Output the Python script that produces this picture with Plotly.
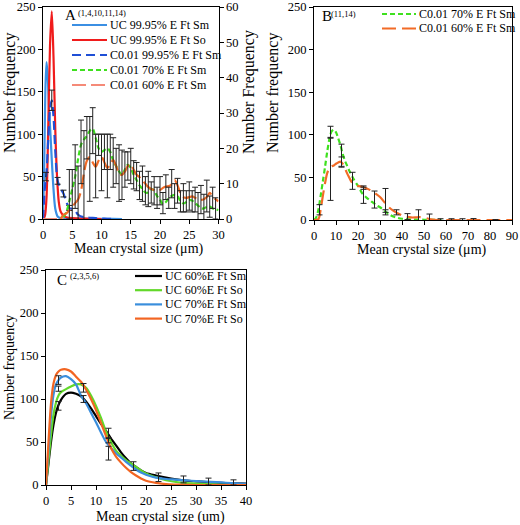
import plotly.graph_objects as go

W, H = 520, 525
FONT = "Liberation Serif"

# ---------------- Panel A data ----------------
a_uc_sm_x = [0, 0.2, 0.4, 0.6, 0.8, 1.0, 1.2, 1.5, 1.8, 2.1, 2.5, 3, 4, 6, 8, 10, 12, 13.5]
a_uc_sm_y = [0, 60, 150, 185, 170, 135, 110, 70, 35, 12, 3, 1, 0.5, 0.5, 0.3, 0.2, 0.1, 0]

a_uc_so_x = [0, 0.3, 0.6, 0.9, 1.2, 1.5, 1.8, 2.1, 2.4, 2.7, 3.0, 3.5, 4, 5, 7, 10]
a_uc_so_y = [0, 3, 25, 110, 205, 245, 190, 105, 50, 20, 9, 4, 2, 1, 0.5, 0]

a_c995_x = [0, 0.3, 0.6, 0.9, 1.2, 1.5, 1.8, 2.1, 2.5, 3.0, 3.5, 4.0, 4.5, 5.0, 5.5, 6.0, 7, 8, 9, 10, 11, 12]
a_c995_y = [0, 35, 55, 95, 130, 140, 120, 80, 45, 36, 30, 20, 13, 12, 10, 5, 2, 1.5, 1, 0.5, 0.3, 0]
a_c995_err_x = [0.5, 1.5, 2.5, 3.5, 4.5]
a_c995_err_y = [50, 140, 45, 30, 13]
a_c995_err = [5, 12, 4, 4, 3]

a_c70_x = [3.5, 4, 4.5, 5, 5.5, 6, 6.5, 7, 7.5, 8, 8.5, 9, 9.5, 10, 10.5, 11, 11.5, 12, 12.5, 13,
           13.5, 14, 14.5, 15, 15.5, 16, 16.5, 17, 17.5, 18, 18.5, 19, 19.5, 20, 20.5, 21, 21.5, 22,
           22.5, 23, 23.5, 24, 24.5, 25, 25.5, 26, 26.5, 27, 27.5, 28, 28.5, 29, 29.5, 30]
a_c70_y = [0.5, 2, 5, 8.5, 12, 17, 21, 22.5, 23.5, 25, 25.5, 23, 20, 19, 19.5, 20, 19, 16.5, 15, 13.5,
           12.5, 14, 15.3, 14.5, 12.5, 11, 9.5, 8.5, 7.5, 7.5, 8.5, 8, 6.5, 5.5, 4.2, 4.8, 5.9, 6.5,
           6.8, 6.5, 5, 4.4, 4.8, 5.4, 5.2, 4.5, 3.8, 3.0, 3.0, 3.4, 3.5, 3.0, 2.8, 2.5]
a_c70_err_x = [4.5, 5.5, 6.5, 7.5, 8.5, 9.5, 10.5, 11.5, 12.5, 13.5, 14.5, 15.5, 16.5, 17.5, 18.5,
               19.5, 20.5, 21.5, 22.5, 23.5, 24.5, 25.5, 26.5, 27.5, 28.5, 29.5]
a_c70_err_y = [7, 12, 19, 23, 25, 21, 19, 19, 15, 12.5, 15, 12.5, 9.5, 8, 7.5, 6, 4.5, 6, 6.5, 5, 5,
               5, 3.5, 3, 3.5, 3]
a_c70_err = [7, 9, 9, 6, 6.5, 3, 5, 5, 5, 7, 4, 4, 4, 4, 3, 3, 3, 3, 3.5, 3, 3, 3, 4, 4, 3, 3]

a_c60_zero_x = [0, 3.5]
a_c60_zero_y = [0, 0]
a_c60_x = [3.0, 3.5, 4.0, 4.5, 5.0, 5.5, 6.0, 6.5, 7.0, 7.5, 8.0, 8.5, 9.0, 9.5, 10, 10.5, 11, 11.5,
           12, 12.5, 13, 13.5, 14, 14.5, 15, 15.5, 16, 16.5, 17, 17.5, 18, 18.5, 19, 19.5, 20, 20.5,
           21, 21.5, 22, 22.5, 23, 23.5, 24, 24.5, 25, 25.5, 26, 26.5, 27, 27.5, 28, 28.5, 29, 29.5, 30]
a_c60_y = [0, 1.2, 1.6, 2.5, 3.5, 4.5, 5.5, 8, 13, 16.5, 17.5, 16, 14.8, 16.5, 17.6, 16, 14.5, 15.5,
           16.7, 15, 12.8, 12.5, 13.4, 15, 15.5, 13.9, 12.5, 11.8, 10.8, 10, 9, 8.5, 8.2, 8, 8.2, 8.8,
           9.2, 9.3, 9.8, 11, 9.5, 7.3, 6.2, 6, 6.2, 6.4, 6, 5.6, 5.4, 5.6, 6.2, 7.4, 6.4, 5.6, 5]
a_c60_err_x = [5, 6, 7, 8, 9, 10, 11, 12, 13, 14, 15, 16, 17, 18, 19, 20, 21, 22, 23, 24, 25, 26, 27, 28, 29]
a_c60_err_y = [4, 5, 12, 17, 15, 16, 15, 16, 13, 14, 15, 12, 10, 8.5, 8, 8, 9, 10, 8, 6, 6.5, 5.5, 5.5, 6.5, 6]
a_c60_err = [10, 10, 13, 12, 9, 8, 9, 7, 8, 5, 5, 4, 5, 5, 4, 4, 3.5, 4, 3.5, 4, 4, 3.5, 4, 4.5, 3]

a_legend_names = ["UC 99.95% E Ft Sm", "UC 99.95% E Ft So", "C0.01 99.95% E Ft Sm",
                  "C0.01 70% E Ft Sm", "C0.01 60% E Ft Sm"]

# ---------------- Panel B data ----------------
b_c70_x = [0, 1, 2, 3, 4, 5, 6, 7, 8, 9, 10, 11, 12, 13, 14, 15, 16, 18, 20, 22, 24, 26, 28, 30, 32,
           34, 36, 38, 40, 42, 45, 50, 55, 58]
b_c70_y = [0, 3, 12, 28, 45, 62, 80, 95, 104, 106, 103, 96, 88, 78, 70, 64, 58, 48, 40, 31, 26, 22,
           18, 15, 11, 7, 4, 2.5, 1.5, 1, 0.5, 0.3, 0.1, 0]
b_c70_err_x = [2.5, 7.5, 12.5, 17.5, 22.5, 27.5, 32.5, 37.5, 42.5]
b_c70_err_y = [12, 103, 76, 46, 29, 24, 9, 9, 4]
b_c70_err = [6, 7, 13, 10, 9.5, 10, 3, 3, 3.5]

b_c60_x = [0, 2, 3, 4, 5, 6, 7, 8, 9, 10, 11, 12, 13, 14, 15, 16, 17, 18, 20, 22, 24, 26, 28, 30, 32,
           34, 36, 38, 40, 42, 44, 46, 48, 50, 52, 54, 56, 60, 70, 80, 90]
b_c60_y = [0, 1, 12, 28, 43, 55, 61, 63, 64, 66, 67.5, 68.5, 66, 61, 55, 50, 45, 42, 40, 39, 37,
           34.5, 31, 27, 21, 15, 11, 8, 5.5, 4, 3, 3, 3.5, 3, 1.5, 0.5, 0, 0, 0, 0, 0]
b_c60_err_x = [7.5, 12.5, 22.5, 32.5, 47.5, 52.5, 57.5, 62.5, 67.5, 72.5, 82.5]
b_c60_err_y = [60, 68, 38, 23, 5, 2, 0.5, 0.5, 0.5, 0.5, 0]
b_c60_err = [37, 6, 2, 14, 7, 5, 1, 1, 1, 1.2, 0.5]

b_legend_names = ["C0.01 70% E Ft Sm", "C0.01 60% E Ft Sm"]

# ---------------- Panel C data ----------------
c_x = [0, 0.5, 1, 1.5, 2, 2.5, 3, 4, 5, 6, 7, 8, 9, 10, 11, 12, 13, 14, 15, 16, 17, 18, 19, 20,
       22, 24, 26, 28, 30, 32, 34, 36, 38, 40]
c_60_sm = [0, 25, 50, 70, 84, 93, 99, 106, 107.5, 106, 103, 97, 89, 80, 71, 63, 54, 46, 38, 31, 25,
           21, 17, 14, 11, 8.5, 6.5, 5, 4.2, 3.5, 2.8, 2.2, 1.8, 1.5]
c_60_so = [0, 28, 58, 82, 96, 104, 108, 111.5, 114.5, 117, 117, 113, 104, 92, 78, 62, 50, 40, 34, 29,
           25, 21, 17, 13.5, 9, 5.5, 3.5, 2.3, 1.5, 1, 0.7, 0.4, 0.2, 0]
c_70_sm = [0, 40, 80, 105, 117, 122, 125, 126.5, 123, 117, 104, 95, 84, 73, 61, 50, 43, 37, 32, 27,
           22.5, 18, 14.5, 12, 8.5, 7, 6.2, 5.3, 4.6, 4, 3.3, 2.6, 2, 1.4]
c_70_so = [0, 50, 95, 118, 128, 132, 134, 134.5, 132, 126, 120, 111, 100, 87, 72, 57, 43, 33, 26, 20,
           15, 11, 7.5, 5, 2.5, 1, 0.5, 0.2, 0, 0, 0, 0, 0, 0]
c_err_x = [2.5, 2.5, 2.5, 7.5, 7.5, 12.5, 12.5, 12.5, 17.5, 22.5, 27.5, 32.5, 37.5]
c_err_y = [122, 112, 92, 113, 100, 60, 52, 37, 22, 9, 6.5, 4, 3]
c_err = [5, 3, 5, 5, 4, 6, 3, 8, 5, 5, 4, 4, 3]

c_legend_names = ["UC 60%E Ft Sm", "UC 60%E Ft So", "UC 70%E Ft Sm", "UC 70%E Ft So"]

# ---------------- styles ----------------
COL_A = ["#3b8fe3", "#f01c1c", "#1f4fd6", "#3ee01e", "#f58a78"]
DASH_A = ["solid", "solid", "9px,5px", "5px,3px", "14px,5px"]
COL_B = ["#3ee01e", "#f26b26"]
DASH_B = ["5px,3px", "14px,6px"]
COL_C = ["#000000", "#62d82a", "#3a8edc", "#f26522"]


def px(x):
    return x / W


def py(y):
    return 1 - y / H


fig = go.Figure()


def line(x, y, color, dash="solid", xa="x", ya="y", width=2.2):
    fig.add_trace(go.Scatter(
        x=x, y=y, mode="lines", xaxis=xa, yaxis=ya, showlegend=False,
        line=dict(color=color, width=width, dash=dash, shape="spline", smoothing=0.8),
    ))


def errs(x, y, e, xa="x", ya="y"):
    fig.add_trace(go.Scatter(
        x=x, y=y, mode="markers", xaxis=xa, yaxis=ya, showlegend=False, hoverinfo="skip",
        marker=dict(size=1, color="rgba(0,0,0,0)"),
        error_y=dict(type="data", array=e, visible=True, color="#222222", thickness=1, width=3),
    ))


# Panel A
line(a_c70_x, a_c70_y, COL_A[3], dash=DASH_A[3], ya="y2")
line(a_c60_x, a_c60_y, "#f26b26", dash=DASH_A[4], ya="y2")
errs(a_c70_err_x, a_c70_err_y, a_c70_err, ya="y2")
errs(a_c60_err_x, a_c60_err_y, a_c60_err, ya="y2")
line(a_uc_sm_x, a_uc_sm_y, COL_A[0])
line(a_uc_so_x, a_uc_so_y, COL_A[1])
line(a_c995_x, a_c995_y, COL_A[2], dash=DASH_A[2])
errs(a_c995_err_x, a_c995_err_y, a_c995_err)
line(a_c60_zero_x, a_c60_zero_y, COL_A[4], dash=DASH_A[4])

# Panel B
line(b_c70_x, b_c70_y, COL_B[0], dash=DASH_B[0], xa="x2", ya="y3")
line(b_c60_x, b_c60_y, COL_B[1], dash=DASH_B[1], xa="x2", ya="y3")
errs(b_c70_err_x, b_c70_err_y, b_c70_err, xa="x2", ya="y3")
errs(b_c60_err_x, b_c60_err_y, b_c60_err, xa="x2", ya="y3")

# Panel C
line(c_x, c_60_sm, COL_C[0], xa="x3", ya="y4")
line(c_x, c_60_so, COL_C[1], xa="x3", ya="y4")
line(c_x, c_70_sm, COL_C[2], xa="x3", ya="y4")
line(c_x, c_70_so, COL_C[3], xa="x3", ya="y4")
errs(c_err_x, c_err_y, c_err, xa="x3", ya="y4")

axis_common = dict(showline=True, linecolor="black", linewidth=1, ticks="outside", ticklen=4,
                   tickcolor="black", showgrid=False, zeroline=False, automargin=False,
                   tickfont=dict(family=FONT, size=12.5, color="black"))

fig.update_layout(
    width=W, height=H, autosize=False,
    margin=dict(l=0, r=0, t=0, b=0, autoexpand=False),
    paper_bgcolor="white", plot_bgcolor="white",
    font=dict(family=FONT, size=12, color="black"),
    showlegend=False,
    xaxis=dict(domain=[px(43), px(218.5)], range=[0, 30], dtick=5, anchor="y", mirror=True, **axis_common),
    yaxis=dict(domain=[py(219), py(7)], range=[0, 250], dtick=50, anchor="x", **axis_common),
    yaxis2=dict(range=[0, 60], dtick=10, overlaying="y", side="right", anchor="x", **axis_common),
    xaxis2=dict(domain=[px(314), px(512)], range=[0, 90], dtick=10, anchor="y3", mirror=True, **axis_common),
    yaxis3=dict(domain=[py(220), py(7)], range=[0, 250], dtick=50, anchor="x2", mirror=True, **axis_common),
    xaxis3=dict(domain=[px(46), px(246)], range=[0, 40], dtick=5, anchor="y4", mirror=True, **axis_common),
    yaxis4=dict(domain=[py(485), py(270)], range=[0, 250], dtick=50, anchor="x3", mirror=True, **axis_common),
)

ann = []
shapes = []


def text(t, x, y, size, angle=0, xanchor="center"):
    ann.append(dict(text=t, x=px(x), y=py(y), xref="paper", yref="paper", showarrow=False,
                    textangle=angle, xanchor=xanchor, yanchor="middle",
                    font=dict(family=FONT, size=size, color="black")))


def legend(names, colors, dashes, x0, x1, y0, dy, size):
    for i, (n, c, d) in enumerate(zip(names, colors, dashes)):
        yy = y0 + i * dy
        shapes.append(dict(type="line", xref="paper", yref="paper", x0=px(x0), x1=px(x1),
                           y0=py(yy), y1=py(yy), line=dict(color=c, width=2.2, dash=d)))
        text(n, x1 + 1, yy, size, xanchor="left")


legend(a_legend_names, COL_A, DASH_A, 72, 107, 25, 15, 12)
legend(b_legend_names, COL_B, DASH_B, 382, 416, 14, 14.5, 12)
legend(c_legend_names, COL_C, ["solid"] * 4, 135, 162, 276, 14.2, 12)

text("Number frequency", 10, 93, 16, -90)
text("Number Frequency", 249, 92, 16, -90)
text("Mean crystal size (μm)", 139, 249, 14)
text("Number frequency", 273, 93, 16, -90)
text("Mean crystal size (μm)", 422, 250, 14)
text("Number frequency", 9, 368, 14, -90)
text("Mean crystal size (um)", 160, 517, 14)
text("A", 63, 15, 15, xanchor="left")
text("(1,4,10,11,14)", 76, 13, 8.5, xanchor="left")
text("B", 320, 16, 15, xanchor="left")
text("(11,14)", 329, 14, 8.5, xanchor="left")
text("C", 55, 280, 15, xanchor="left")
text("(2,3,5,6)", 68, 276, 8.5, xanchor="left")
fig.update_layout(annotations=ann, shapes=shapes)

fig.write_html("out.html", config={"displayModeBar": False},
               post_script="document.body.style.margin='0';")
